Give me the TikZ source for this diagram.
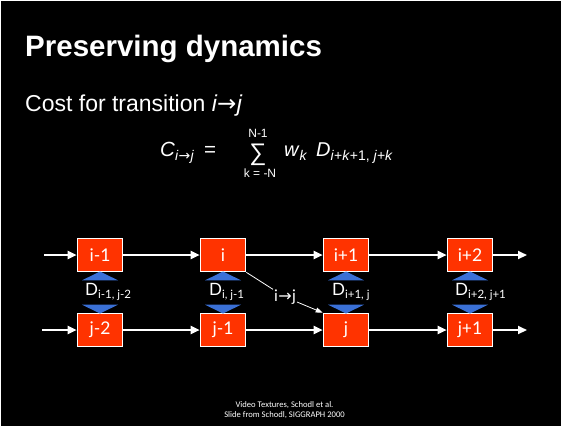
\documentclass[tikz,border=0pt]{standalone}
\usepackage{fontspec}
\setmainfont{Liberation Sans}
\newfontfamily\boxfont{Lato}
\newfontfamily\footfont{Carlito}
\newfontfamily\arrfont{DejaVu Sans}
\usetikzlibrary{arrows.meta,calc}
\definecolor{boxred}{RGB}{255,51,0}
\definecolor{triblue}{RGB}{58,112,214}
\newcommand{\tarrow}{{\arrfont\kern0.3pt→\kern0.3pt}}
\begin{document}
\begin{tikzpicture}[x=1pt,y=-1pt,
  frame/.style={draw=white, line width=1.6pt, fill=boxred, minimum width=45pt,
    minimum height=33pt, inner sep=0pt, text=white,
    font=\boxfont\fontsize{17.5}{17.5}\selectfont},
  flow/.style={draw=white, line width=2pt, -{Triangle[length=9pt,width=8pt]}},
  thin/.style={draw=white, line width=0.8pt},
  dlabel/.style={anchor=base west, inner sep=0pt, text=white,
    font=\boxfont\fontsize{17}{17}\selectfont},
  slidetext/.style={anchor=base west, inner sep=0pt, text=white},
  tri/.style={fill=triblue}]
\useasboundingbox (0,0) rectangle (561,426);
\fill[white] (0,0) rectangle (561,426);
\fill[black] (0.7,1.4) rectangle (561,426);

% title and text
\node[slidetext, font=\bfseries\fontsize{29.5}{29.5}\selectfont] (title) at (25,56) {Preserving dynamics};
\node[slidetext, font=\fontsize{23}{23}\selectfont] (cost) at (25,111) {Cost for transition \textit{i\tarrow j}};

% formula
\node[slidetext, font=\fontsize{20.5}{20.5}\selectfont] (C) at (160,156)
  {\textit{C}\raisebox{-4pt}{\fontsize{14}{14}\selectfont\textit{i\tarrow j}}};
\node[slidetext, font=\fontsize{20.5}{20.5}\selectfont] (eq) at (204,156) {=};
\node[anchor=base, inner sep=0pt, text=white, font=\fontsize{24}{24}\selectfont] (sum) at (258,160) {∑};
\node[anchor=base, inner sep=0pt, text=white, font=\fontsize{12}{12}\selectfont] (up) at (258,137) {N-1};
\node[anchor=base, inner sep=0pt, text=white, font=\fontsize{12}{12}\selectfont] (lo) at (260,177) {k = -N};
\node[slidetext, font=\fontsize{20}{20}\selectfont] (w) at (284,156)
  {\textit{w}\raisebox{-4pt}{\fontsize{14}{14}\selectfont\textit{k}}};
\node[slidetext, font=\fontsize{20}{20}\selectfont] (D) at (316,156)
  {\textit{D}\raisebox{-4pt}{\fontsize{14}{14}\selectfont\textit{i}+\textit{k}+1, \textit{j}+\textit{k}}};

% boxes
\node[frame] (i1) at (100,255) {i-1};
\node[frame] (i)  at (223,255) {i};
\node[frame] (ip1) at (346,255) {i+1};
\node[frame] (ip2) at (470,255) {i+2};
\node[frame] (j2) at (100,330) {j-2};
\node[frame] (j1) at (223,330) {j-1};
\node[frame] (j)  at (346,330) {j};
\node[frame] (jp1) at (470,330) {j+1};

\coordinate (tin) at (44,255);
\coordinate (tout) at (527,255);
\coordinate (bin) at (42,330);
\coordinate (bout) at (527,330);

\draw[flow] (tin) -- (i1);
\draw[flow] (i1) -- (i);
\draw[flow] (i) -- (ip1);
\draw[flow] (ip1) -- (ip2);
\draw[flow] (ip2) -- (tout);
\draw[flow] (bin) -- (j2);
\draw[flow] (j2) -- (j1);
\draw[flow] (j1) -- (j);
\draw[flow] (j) -- (jp1);
\draw[flow] (jp1) -- (bout);

% blue triangles
\foreach \n in {i1,i,ip1,ip2}
  \fill[tri] ($(\n.south)+(0,-0.8)$) -- ++(18,8.8) -- ++(-36,0) -- cycle;
\foreach \n in {j2,j1,j,jp1}
  \fill[tri] ($(\n.north)+(0,0.8)$) -- ++(18,-8.8) -- ++(-36,0) -- cycle;

% distance labels
\node[dlabel] (d1) at (85,295) {D\raisebox{-3pt}{\fontsize{11.5}{11.5}\selectfont i-1, j-2}};
\node[dlabel] (d2) at (209,295) {D\raisebox{-3pt}{\fontsize{11.5}{11.5}\selectfont i, j-1}};
\node[dlabel] (d3) at (332,295) {D\raisebox{-3pt}{\fontsize{11.5}{11.5}\selectfont i+1, j}};
\node[dlabel] (d4) at (455,295) {D\raisebox{-3pt}{\fontsize{11.5}{11.5}\selectfont i+2, j+1}};

% transition
\node[inner sep=1pt, text=white, font=\boxfont\fontsize{16}{16}\selectfont] (tr) at (285,297)
  {i\tarrow j};
\draw[thin] (i.south east) -- (tr);
\draw[thin, -{Triangle[length=7pt,width=5pt]}] (tr) -- (j.north west);

% footer
\node[inner sep=0pt, text=white, align=center, font=\footfont\fontsize{8.6}{10.5}\selectfont] (foot) at (284.5,410)
  {Video Textures, Schodl et al.\\Slide from Schodl, SIGGRAPH 2000};
\end{tikzpicture}
\end{document}
